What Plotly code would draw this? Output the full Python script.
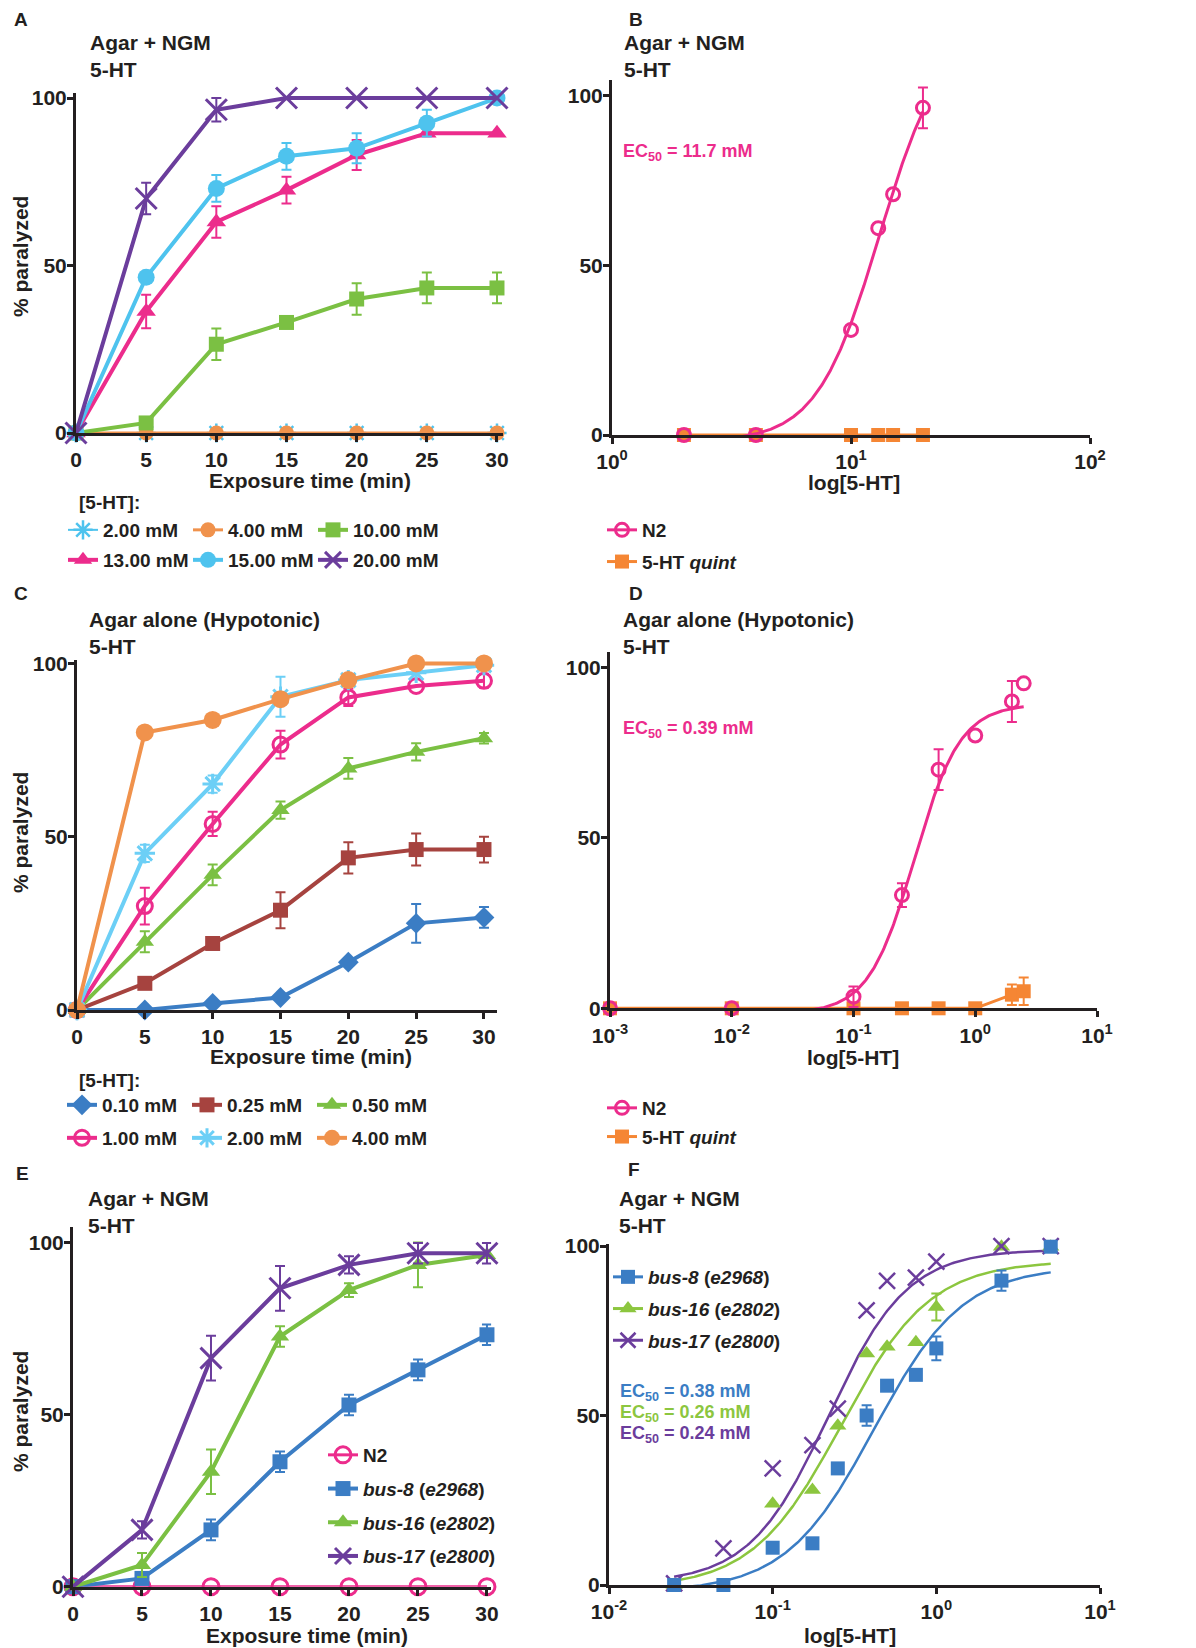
import numpy as np
import plotly.graph_objects as go

# ---------------- data ----------------
times = [0, 5, 10, 15, 20, 25, 30]
time_ticks = [0, 5, 10, 15, 20, 25, 30]
pct_ticks = [0, 50, 100]

# Panel A: Agar + NGM, 5-HT, N2 time course
a_labels = ["2.00 mM", "4.00 mM", "10.00 mM", "13.00 mM", "15.00 mM", "20.00 mM"]
a_2mM = [0, 0, 0, 0, 0, 0, 0]
a_4mM = [0, 0, 0, 0, 0, 0, 0]
a_10mM = [0, 3, 26.5, 33, 40, 43.3, 43.3]
a_10mM_err = [None, None, 4.7, None, 4.7, 4.6, 4.6]
a_13mM = [0, 36.3, 63, 72.5, 83, 89.5, 89.5]
a_13mM_err = [None, 5, 4.7, 4, 4.5, None, None]
a_15mM = [0, 46.5, 73, 82.6, 85, 92.5, 100]
a_15mM_err = [None, None, 4, 4, 4.5, 4, None]
a_20mM = [0, 70, 96.5, 100, 100, 100, 100]
a_20mM_err = [None, 4.7, 3.5, None, None, None, None]

# Panel B: Agar + NGM dose response
b_conc = [2, 4, 10, 13, 15, 20]
b_n2 = [0, 0, 31, 61, 71, 96.5]
b_n2_err = [None, None, None, None, None, 6]
b_quint = [0, 0, 0, 0, 0, 0]
b_fit = [-2, 120, 1.12, 3.3]          # bottom, top, logEC50, Hill slope
b_ticks = [1, 10, 100]
b_ticktext = ["10<sup>0</sup>", "10<sup>1</sup>", "10<sup>2</sup>"]

# Panel C: Agar alone (hypotonic) time course
c_labels = ["0.10 mM", "0.25 mM", "0.50 mM", "1.00 mM", "2.00 mM", "4.00 mM"]
c_010 = [0, 0, 1.9, 3.6, 13.8, 25, 26.7]
c_010_err = [None, None, None, None, None, 5.6, 3]
c_025 = [0, 7.7, 19.2, 28.8, 43.9, 46.3, 46.3]
c_025_err = [None, None, 1.5, 5.2, 4.5, 4.6, 3.7]
c_050 = [0, 19.7, 39, 57.7, 69.7, 74.5, 78.4]
c_050_err = [None, 3, 3, 2.5, 3, 2.5, 1.5]
c_100 = [0, 30, 53.7, 76.6, 90.2, 93.5, 95]
c_100_err = [None, 5.3, 3.5, 4, 2.5, None, 2]
c_200 = [0, 45.2, 65.2, 90.4, 95.2, 97.3, 99.5]
c_200_err = [None, 2.5, 2.5, 5.8, None, None, None]
c_400 = [0, 80.1, 83.7, 89.7, 95.2, 100, 100]

# Panel D: Agar alone dose response
d_conc = [0.001, 0.01, 0.1, 0.25, 0.5, 1.0, 2.0, 2.5]
d_n2 = [0, 0, 3.4, 33.2, 70, 80, 90, 95.3]
d_n2_err = [None, None, 3, 3.5, 6, None, 6, None]
d_quint = [0, 0, 0, 0, 0, 0, 4, 5]
d_quint_err = [None, None, None, None, None, None, 3, 4]
d_fit = [-1.5, 89.2, -0.5, 2.3]
d_ticks = [0.001, 0.01, 0.1, 1, 10]
d_ticktext = ["10<sup>-3</sup>", "10<sup>-2</sup>", "10<sup>-1</sup>", "10<sup>0</sup>", "10<sup>1</sup>"]

# Panel E: bus mutants time course
e_n2 = [0, 0, 0, 0, 0, 0, 0]
e_bus8 = [0, 2.4, 16.5, 36.3, 52.8, 63, 73.2]
e_bus8_err = [None, None, 3, 3, 3, 3, 3]
e_bus16 = [0, 6.3, 33.4, 72.7, 86.2, 93.5, 96.4]
e_bus16_err = [None, 3.5, 6.5, 3, 2, 6.5, None]
e_bus17 = [0, 16.5, 66.4, 86.7, 93.5, 96.9, 96.9]
e_bus17_err = [None, 2.5, 6.5, 6.5, 2.5, 3, 3]

# Panel F: bus mutants dose response
f_conc = [0.025, 0.05, 0.1, 0.175, 0.25, 0.375, 0.5, 0.75, 1.0, 2.5, 5.0]
f_bus8 = [0, 0, 11, 12.3, 34.4, 50, 58.8, 62, 69.8, 89.8, 99.8]
f_bus8_err = [None, None, None, None, None, 3, None, None, 3.5, 3, None]
f_bus16 = [0, None, 24, 28, 47, 68.3, 70.3, 71.6, 82, 99.8, 99.8]
f_bus16_err = [None, None, None, None, None, None, None, None, 4, None, None]
f_bus17 = [0.5, 10.8, 34.4, 41.3, 52, 81, 89.7, 90.7, 95.4, 100, 100]
f_fit_bus8 = [-2, 94, -0.38, 1.6]
f_fit_bus16 = [-1, 95.6, -0.58, 1.6]
f_fit_bus17 = [0.5, 99, -0.66, 1.8]
f_ticks = [0.01, 0.1, 1, 10]
f_ticktext = ["10<sup>-2</sup>", "10<sup>-1</sup>", "10<sup>0</sup>", "10<sup>1</sup>"]

# ---------------- styling ----------------
OFF = 8                       # page body margin of the html
W, H = 1196 - OFF, 1648 - OFF
INK = "#231F20"
FONT = "Liberation Sans"
PINK = "#EC2C8C"
PURPLE = "#6B3D9C"
LBLUE = "#4EC3EE"
GREEN = "#7BC043"
ORANGE = "#F0924C"
QORANGE = "#F58634"
BLUE = "#3B7DC4"
BROWN = "#A6433F"
CBLUE = "#6CCFF6"
FGREEN = "#8CC63F"


def px2x(px):
    return (px - OFF) / W


def px2y(py):
    return 1 - (py - OFF) / H


def hill(x, p):
    bottom, top, logec, slope = p
    x = np.asarray(x, dtype=float)
    return bottom + (top - bottom) / (1 + 10 ** ((logec - np.log10(x)) * slope))


def fit_x(conc):
    return np.logspace(np.log10(conc[0]), np.log10(conc[-1]), 300)


def err(arr):
    return dict(type="data", array=np.array(arr, dtype=float), visible=True,
                thickness=2, width=5)


fig = go.Figure()


def add(x, y, ax, name=None, color=INK, symbol="circle", size=14, lw=4,
        mode="lines+markers", e=None, mlw=0, legend=None, showlegend=False):
    open_sym = symbol.endswith("open")
    marker = dict(symbol=symbol, size=size, color=color,
                  line=dict(width=mlw if mlw else (2.5 if open_sym else 0), color=color))
    fig.add_trace(go.Scatter(
        x=x, y=y, mode=mode, name=name, xaxis="x" + ax, yaxis="y" + ax,
        line=dict(color=color, width=lw), marker=marker,
        error_y=err(e) if e is not None else None,
        cliponaxis=False, showlegend=showlegend, legend=legend,
        legendgroup=name, connectgaps=True))


# Panel A
add(times, a_2mM, "", a_labels[0], LBLUE, "asterisk-open", 16, 2, mlw=2.5, legend="legend", showlegend=True)
add(times, a_4mM, "", a_labels[1], ORANGE, "circle", 15, 3, legend="legend", showlegend=True)
add(times, a_10mM, "", a_labels[2], GREEN, "square", 15, 4, e=a_10mM_err, legend="legend", showlegend=True)
add(times, a_13mM, "", a_labels[3], PINK, "triangle-up", 17, 4, e=a_13mM_err, legend="legend2", showlegend=True)
add(times, a_15mM, "", a_labels[4], LBLUE, "circle", 17, 4, e=a_15mM_err, legend="legend2", showlegend=True)
add(times, a_20mM, "", a_labels[5], PURPLE, "x-thin-open", 21, 4, e=a_20mM_err, mlw=3, legend="legend2", showlegend=True)

# Panel B
add([None], [None], "2", "N2", PINK, "circle-open", 13, 3, mlw=3, legend="legend3", showlegend=True)
add(b_conc, b_quint, "2", "5-HT <i>quint</i>", QORANGE, "square", 14, 3, legend="legend3", showlegend=True)
bx = fit_x(b_conc)
add(bx, hill(bx, b_fit), "2", "N2 fit", PINK, mode="lines", lw=3)
add(b_conc, b_n2, "2", "N2 data", PINK, "circle-open", 13, mode="markers", e=b_n2_err, mlw=3)

# Panel C
add(times, c_010, "3", c_labels[0], BLUE, "diamond", 16, 4, e=c_010_err, legend="legend4", showlegend=True)
add(times, c_025, "3", c_labels[1], BROWN, "square", 15, 4, e=c_025_err, legend="legend4", showlegend=True)
add(times, c_050, "3", c_labels[2], GREEN, "triangle-up", 16, 4, e=c_050_err, legend="legend4", showlegend=True)
add(times, c_100, "3", c_labels[3], PINK, "circle-open", 15, 4, e=c_100_err, mlw=3, legend="legend5", showlegend=True)
add(times, c_200, "3", c_labels[4], CBLUE, "asterisk-open", 17, 4, e=c_200_err, mlw=3, legend="legend5", showlegend=True)
add(times, c_400, "3", c_labels[5], ORANGE, "circle", 18, 4, legend="legend5", showlegend=True)

# Panel D
add([None], [None], "4", "N2", PINK, "circle-open", 13, 3, mlw=3, legend="legend6", showlegend=True)
add(d_conc, d_quint, "4", "5-HT <i>quint</i>", QORANGE, "square", 14, 3, e=d_quint_err, legend="legend6", showlegend=True)
dx = fit_x(d_conc)
add(dx, hill(dx, d_fit), "4", "N2 fit", PINK, mode="lines", lw=3)
add(d_conc, d_n2, "4", "N2 data", PINK, "circle-open", 13, mode="markers", e=d_n2_err, mlw=3)

# Panel E
add(times, e_n2, "5", "N2", PINK, "circle-open", 16, 3, mlw=3, legend="legend7", showlegend=True)
add(times, e_bus8, "5", "<i>bus-8</i> (<i>e2968</i>)", BLUE, "square", 15, 4, e=e_bus8_err, legend="legend7", showlegend=True)
add(times, e_bus16, "5", "<i>bus-16</i> (<i>e2802</i>)", GREEN, "triangle-up", 16, 4, e=e_bus16_err, legend="legend7", showlegend=True)
add(times, e_bus17, "5", "<i>bus-17</i> (<i>e2800</i>)", PURPLE, "x-thin-open", 21, 4, e=e_bus17_err, mlw=3, legend="legend7", showlegend=True)

# Panel F
fx = fit_x(f_conc)
add(fx, hill(fx, f_fit_bus8), "6", "bus-8 fit", BLUE, mode="lines", lw=2.5)
add(fx, hill(fx, f_fit_bus16), "6", "bus-16 fit", FGREEN, mode="lines", lw=2.5)
add(fx, hill(fx, f_fit_bus17), "6", "bus-17 fit", PURPLE, mode="lines", lw=2.5)
add(f_conc, f_bus16, "6", "bus16", FGREEN, "triangle-up", 15, mode="markers", e=f_bus16_err)
add(f_conc, f_bus17, "6", "bus17", PURPLE, "x-thin-open", 16, mode="markers", mlw=2.5)
add(f_conc, f_bus8, "6", "bus8", BLUE, "square", 14, mode="markers", e=f_bus8_err)
add([None], [None], "6", "<i>bus-8</i> (<i>e2968</i>)", BLUE, "square", 14, 3, legend="legend8", showlegend=True)
add([None], [None], "6", "<i>bus-16</i> (<i>e2802</i>)", FGREEN, "triangle-up", 15, 3, legend="legend8", showlegend=True)
add([None], [None], "6", "<i>bus-17</i> (<i>e2800</i>)", PURPLE, "x-thin-open", 15, 3, mlw=2.5, legend="legend8", showlegend=True)


# ---------------- axes ----------------
def xdom(a, b):
    return [px2x(a), px2x(b)]


def ydom(top, bottom):
    return [px2y(bottom), px2y(top)]


axis_common = dict(showline=True, linecolor=INK, linewidth=3, ticks="outside",
                   ticklen=6, tickwidth=3, tickcolor=INK, showgrid=False,
                   zeroline=False, automargin=False,
                   tickfont=dict(size=21, color=INK, family=FONT, weight="bold"))

panels = {
    "": dict(xd=(76, 502.6), xr=[0, 30.4], xt="linear", yd=(93, 433), yr=[0, 101.5]),
    "2": dict(xd=(612, 1090), xr=[0, 2], xt="log", yd=(80, 435), yr=[0, 104.7]),
    "3": dict(xd=(77, 497), xr=[0, 30.96], xt="linear", yd=(660, 1010), yr=[0, 101]),
    "4": dict(xd=(610, 1097), xr=[-3, 1], xt="log", yd=(652, 1008.3), yr=[0, 104.5]),
    "5": dict(xd=(73, 491.1), xr=[0, 30.3], xt="linear", yd=(1226.7, 1586.7), yr=[0, 104.6]),
    "6": dict(xd=(609, 1100), xr=[-2, 1], xt="log", yd=(1244, 1585), yr=[0, 100.6]),
}
log_ticks = {"2": (b_ticks, b_ticktext), "4": (d_ticks, d_ticktext), "6": (f_ticks, f_ticktext)}

layout_axes = {}
for k, p in panels.items():
    xa = dict(axis_common, domain=xdom(*p["xd"]), range=p["xr"], type=p["xt"],
              anchor="y" + k)
    if p["xt"] == "log":
        xa.update(tickvals=log_ticks[k][0], ticktext=log_ticks[k][1])
    else:
        xa.update(tickvals=time_ticks)
    ya = dict(axis_common, domain=ydom(*p["yd"]), range=p["yr"], anchor="x" + k,
              tickvals=pct_ticks, ticklabelstandoff=-4)
    layout_axes["xaxis" + k] = xa
    layout_axes["yaxis" + k] = ya

# ---------------- annotations ----------------
ann = []


def text(px, py, s, size=20, color=INK, xanchor="left", angle=0, yanchor="middle"):
    ann.append(dict(x=px2x(px), y=px2y(py), xref="paper", yref="paper", text=s,
                    showarrow=False, xanchor=xanchor, yanchor=yanchor,
                    textangle=angle, align="left", borderpad=0,
                    font=dict(size=size, color=color, family=FONT, weight="bold")))


for letter, px, py in [("A", 13, 8.5), ("B", 628, 8.5)]:
    text(px, py, letter, 19, yanchor="top")
for letter, px, py in [("C", 13, 593), ("D", 628, 593), ("E", 15, 1173), ("F", 627, 1169)]:
    text(px, py, letter, 19)

for px, py, t in [(89, 56.5, "Agar + NGM"), (623, 56.5, "Agar + NGM"),
                  (88, 633, "Agar alone (Hypotonic)"), (622, 633, "Agar alone (Hypotonic)"),
                  (87, 1211.5, "Agar + NGM"), (618, 1211.5, "Agar + NGM")]:
    text(px, py, t + "<br>5-HT", 21)

for px, py in [(310, 481), (311, 1056), (307, 1635)]:
    text(px, py, "Exposure time (min)", 21, xanchor="center")
for px, py in [(854, 483), (853, 1057), (850, 1635)]:
    text(px, py, "log[5-HT]", 21, xanchor="center")
for py in [257, 833, 1412]:
    text(20, py, "% paralyzed", 21, xanchor="center", angle=-90)

text(78, 502, "[5-HT]:", 19)
text(78, 1080, "[5-HT]:", 19)

text(622, 153, "EC<sub>50</sub> = 11.7 mM", 18, PINK)
text(622, 730, "EC<sub>50</sub> = 0.39 mM", 18, PINK)
text(619, 1392, "EC<sub>50</sub> = 0.38 mM", 18, BLUE)
text(619, 1413, "EC<sub>50</sub> = 0.26 mM", 18, FGREEN)
text(619, 1434, "EC<sub>50</sub> = 0.24 mM", 18, PURPLE)


# ---------------- legends ----------------
def hleg(px, py):
    return dict(x=px2x(px), y=px2y(py), xanchor="left", yanchor="middle",
                orientation="h", entrywidth=80, bgcolor="rgba(0,0,0,0)",
                font=dict(size=19, color=INK, family=FONT, weight="bold"),
                itemwidth=30, traceorder="normal")


def vleg(px, py, gap):
    return dict(x=px2x(px), y=px2y(py), xanchor="left", yanchor="top",
                orientation="v", bgcolor="rgba(0,0,0,0)", tracegroupgap=gap,
                font=dict(size=19, color=INK, family=FONT, weight="bold"),
                itemwidth=30, traceorder="grouped")


fig.update_layout(
    width=W, height=H,
    margin=dict(l=0, r=0, t=0, b=0, pad=0, autoexpand=False),
    paper_bgcolor="white", plot_bgcolor="white",
    font=dict(family=FONT, size=20, color=INK, weight="bold"),
    annotations=ann,
    legend=hleg(63, 530), legend2=hleg(63, 560),
    legend3=vleg(602, 511, 4),
    legend4=hleg(62, 1105), legend5=hleg(62, 1138),
    legend6=vleg(602, 1089, 1),
    legend7=vleg(323, 1436, 6),
    legend8=vleg(608, 1258, 4),
    **layout_axes,
)

fig.write_html("out.html")
